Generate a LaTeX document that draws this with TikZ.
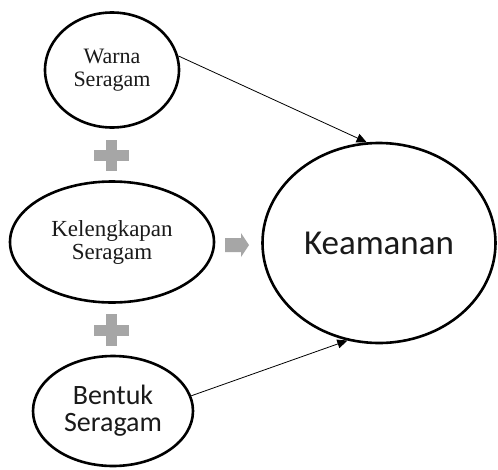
\documentclass[tikz,border=0pt]{standalone}
\usepackage{fontspec}
\setmainfont{Liberation Serif}
\newfontfamily\calfont{Carlito}
\usetikzlibrary{shapes.geometric,arrows.meta}
\definecolor{plusgray}{HTML}{A6A6A6}
\definecolor{txt}{HTML}{1A1A1A}
\begin{document}
\begin{tikzpicture}[x=1pt,y=-1pt,
  oval/.style={draw=black,line width=2.6pt,ellipse,inner sep=0pt,align=center,text=txt},
  link/.style={draw=black,line width=0.8pt,-{Triangle[length=10pt,width=9pt]}},
  plus/.style={fill=plusgray,draw=none}]
\fill[white] (0,0) rectangle (498,469);
\useasboundingbox (0,0) rectangle (498,469);

\node[oval,minimum width=134pt,minimum height=115pt,
  font={\fontsize{22}{23}\selectfont}] (warna) at (112,70) {Warna\\Seragam};
\node[oval,minimum width=204pt,minimum height=121pt,
  font={\fontsize{23}{23}\selectfont}] (kel) at (112,242) {Kelengkapan\\Seragam};
\node[oval,minimum width=160pt,minimum height=110pt,
  font={\calfont\fontsize{28}{27}\selectfont}] (bentuk) at (113,411) {Bentuk\\Seragam};
\node[oval,minimum width=233pt,minimum height=200pt,
  font={\calfont\fontsize{35}{36}\selectfont}] (keam) at (379,243) {Keamanan};

% plus signs
\fill[plus] (94,150) rectangle (129,161);
\fill[plus] (106,140) rectangle (117,171);
\fill[plus] (94,325) rectangle (129,336);
\fill[plus] (106,314) rectangle (117,346);

% block arrow
\fill[plus] (225,238) -- (241,238) -- (241,233) -- (249,245) -- (241,257) -- (241,252) -- (225,252) -- cycle;

% connectors
\draw[link] (warna.12) -- (keam.97);
\draw[link] (bentuk.11) -- (keam.252);
\end{tikzpicture}
\end{document}
